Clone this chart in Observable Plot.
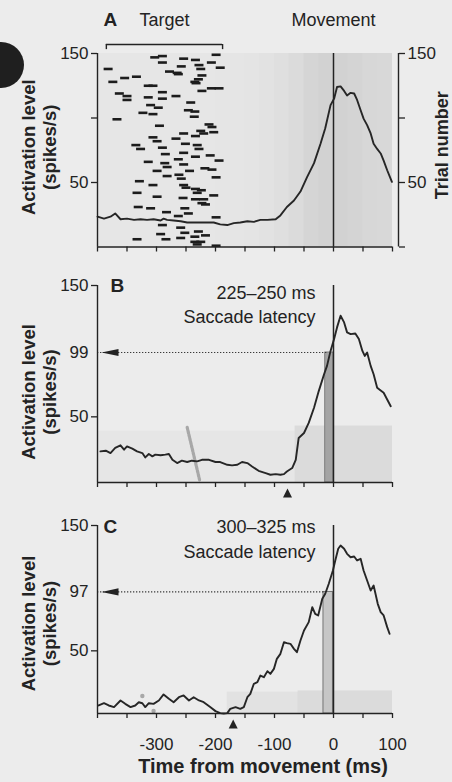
<!DOCTYPE html>
<html><head><meta charset="utf-8">
<script src="https://cdn.jsdelivr.net/npm/d3@7"></script>
<script src="https://cdn.jsdelivr.net/npm/@observablehq/plot@0.6"></script>
<style>
html,body{margin:0;padding:0;background:#ececec;}
#wrap{position:relative;width:452px;height:782px;overflow:hidden;font-family:"Liberation Sans",Arial,Helvetica,sans-serif;color:#222;}
#wrap svg{display:block;}
.disc{position:absolute;left:-22px;top:42px;width:46px;height:46px;border-radius:50%;background:#1f1f1f;z-index:5;}
</style></head>
<body><div id="wrap"><div class="disc"></div></div>
<script>
// ---------- shared axes ----------
const xDomain = [-400, 100];
const yDomain = [0, 150];
const xTicks = [-400, -350, -300, -250, -200, -150, -100, -50, 0, 50, 100];
const xTickLabels = [-300, -200, -100, 0, 100];
const yTicksA = [50, 100, 150];
const yLabelsA = [50, 150];
const trialTicks = [0, 50, 100, 150];
const trialLabels = [50, 150];
const yTicksBC = [50, 150];

// ---------- panel A ----------
const curveA_t = [-400,-389,-378,-370,-361,-350,-338,-327,-316,-305,-293,-288,-282,-271,-259,-248,-237,-225,-214,-203,-192,-180,-169,-158,-146,-135,-124,-112,-98,-90,-79,-67,-56,-45,-33,-22,-14,-5,1,6,12,18,23,29,35,40,46,51,57,63,68,74,80,85,91,99];
const curveA_v = [23.5,22,23.5,26,21.5,22,21,21.5,21,21.5,20.5,22,21,20.5,20,19,19,19,19,19,17.5,17,18.5,19,20,19.5,21,21,21.5,24.5,31,36,43,54,65,80,92,110,115,124,124.5,121,117.5,119.5,119,114,106,99.5,94.5,88,80,76,72.5,67,59.5,50.5];

const targetsA_t = [-303,-290,-254,-234,-207,-199,-192,-290,-258,-228,-225,-382,-278,-265,-263,-223,-229,-235,-233,-334,-354,-374,-314,-306,-290,-223,-207,-194,-363,-350,-350,-314,-290,-267,-242,-310,-297,-323,-306,-246,-235,-236,-367,-295,-211,-206,-254,-234,-220,-306,-299,-267,-251,-290,-231,-228,-335,-327,-203,-225,
  -285,-254,-234,-209,-194,-314,-286,-282,-263,-254,-299,-282,-244,-218,-206,-199,-262,-258,-329,-306,-254,-250,-234,-224,-231,-333,-299,-255,-234,-220,-223,-203,-217,-331,-310,-283,-252,-246,-263,-199,-290,-259,-252,-293,-284,-259,-235,-229,-217,-333,-235,-225,-231,-199];
const targetsA_trial = [147,148,146,145,143,149,139,143,140,141,138,138,136,135,134,133,130,128,127,132,131,128,125,125,120,121,123,123,119,117,114,116,115,117,112,110,108,104,103,106,105,101,99,94,95,93,88,86,88,85,82,84,80,77,79,76,79,76,89,90,
  72,73,70,71,67,66,65,62,68,64,59,55,59,61,60,54,56,53,51,48,48,46,45,44,42,42,39,38,37,37,34,40,33,31,30,27,30,26,24,23,17,15,11,10,6,7,8,12,9,6,4,4,2,1];

const rasterA_start = [-400,-200,-150,-125,-100,-75,-50,-25,0,25,50,75];
const rasterA_end   = [-200,-150,-125,-100,-75,-50,-25,0,25,50,75,100];
const rasterA_density = [0.12,0.15,0.18,0.24,0.32,0.42,0.55,0.62,0.62,0.58,0.52,0.46];
const rasterA_top = [150,150,150,150,150,150,150,150,150,150,150,150];

const targetWindowA = [-385, -188];

// ---------- panel B ----------
const curveB_t = [-395,-386,-378,-370,-361,-355,-350,-341,-333,-324,-319,-313,-307,-302,-293,-285,-279,-273,-265,-257,-248,-240,-231,-223,-211,-200,-192,-180,-172,-163,-155,-146,-138,-127,-115,-107,-98,-90,-84,-79,-70,-64,-59,-50,-42,-33,-25,-16,-11,-5,1,6,12,18,23,29,37,43,49,53,57,63,68,74,80,85,91,97];
const curveB_v = [23.7,24.2,22.4,26.3,28.3,25,27.5,25.8,23.7,22.4,19.1,21.7,19.9,21.2,20.7,21.2,21.7,17.3,14.8,16.6,15.6,16.6,16.1,17.3,17.3,15.6,15.6,13.5,13,13.5,15.6,14.8,12.2,8.9,7.1,5.9,6.4,5.9,6.4,8.4,11,17.3,33.9,37.7,45.4,56.9,69.6,82.4,88.8,100.2,109.2,118.1,127,121.9,114.3,113,113.5,109.2,100.2,96.4,99,88.8,82.4,72.2,70.1,68.3,63.2,58.1];
const rasterB_start = [-400, -65];
const rasterB_end = [-65, 100];
const rasterB_top = [39, 43];
const rasterB_density = [0.12, 0.4];
const targetB_t = [-248, -227];
const targetB_trial = [42, 2];
const thresholdB = 99;
const crossB = -9;
const bandB = [-14, 0];
const onsetB = -78;

// ---------- panel C ----------
const curveC_t = [-398,-389,-381,-372,-361,-353,-344,-336,-330,-324,-319,-313,-305,-296,-288,-279,-271,-262,-254,-245,-237,-228,-220,-209,-200,-192,-186,-180,-175,-166,-158,-152,-146,-141,-135,-129,-124,-118,-112,-107,-101,-96,-90,-84,-79,-73,-67,-62,-56,-50,-42,-36,-31,-26,-19,-14,-8,-1,3,8,12,18,23,29,35,40,46,51,57,63,68,75,80,85,91,95];
const curveC_v = [6.4,8.2,6.4,5.1,10.4,7.7,5.1,6.4,9,8.2,5.1,8.2,7.7,10.4,15.2,11.7,9,13,14.4,10.4,13,10.4,9,5.1,1.9,0.3,0,0.3,3.7,5.1,3.7,5.1,13,15.7,23.7,25,30.3,29,33.8,31.6,35.6,43.6,47.6,56.9,56.1,55.6,51.6,48.9,58.2,66.2,72.9,84.8,79.5,78.2,91.5,95.5,103.5,114.1,122.1,131.4,134,131.4,127.4,124.7,125.3,122.1,123.4,114.1,106.1,98.1,102.1,87.5,80.9,78.2,68.9,63.6];
const rasterC_start = [-180, -60];
const rasterC_end = [-60, 100];
const rasterC_top = [17, 18];
const rasterC_density = [0.24, 0.4];
const targetC_t = [-324, -305];
const targetC_trial = [14, 2];
const thresholdC = 97;
const crossC = -13;
const bandC = [-17, -1];
const onsetC = -170;

// ---------- helpers ----------
const zip = (a, b, ka, kb) => a.map((v, i) => ({[ka]: v, [kb]: b[i]}));
const rasterRows = (s, e, top, den) => s.map((v, i) => ({start: v, end: e[i], top: top[i], density: den[i]}));

const dash = {draw(ctx) { ctx.moveTo(-4.5, -1.3); ctx.lineTo(4.5, -1.3); ctx.lineTo(4.5, 1.3); ctx.lineTo(-4.5, 1.3); ctx.closePath(); }};
const arrowLeft = {draw(ctx) { ctx.moveTo(0, 0); ctx.lineTo(17, -3.6); ctx.lineTo(17, 3.6); ctx.closePath(); }};
const triUp = {draw(ctx) { ctx.moveTo(0, -5); ctx.lineTo(4.5, 4); ctx.lineTo(-4.5, 4); ctx.closePath(); }};

const INK = "#232323";
const FONT = "Liberation Sans, Arial, Helvetica, sans-serif";
const baseStyle = {background: "transparent", fontFamily: FONT, fontSize: "17px", color: INK, overflow: "visible"};
const RASTER_INK = 0.32;

function frameMarks() {
  return [
    Plot.ruleX([0], {y1: yDomain[0], y2: yDomain[1], stroke: INK, strokeWidth: 1.5}),
    Plot.ruleX([xDomain[0]], {y1: yDomain[0], y2: yDomain[1], stroke: INK, strokeWidth: 1.4}),
    Plot.ruleY([yDomain[0]], {stroke: INK, strokeWidth: 1.4}),
    Plot.axisX({ticks: xTicks, tickSize: 5, tickFormat: () => "", label: null, stroke: INK, strokeWidth: 1.3})
  ];
}
function label(str, opts) {
  return Plot.text([str], {text: d => d, textAnchor: "middle", lineAnchor: "middle", fill: INK, fontSize: 18, ...opts});
}
function yTitle(dy) {
  return [
    label("Activation level", {frameAnchor: "left", dx: -68, dy, rotate: -90, fontWeight: "bold", fontSize: 18.5}),
    label("(spikes/s)", {frameAnchor: "left", dx: -47, dy, rotate: -90, fontWeight: "bold", fontSize: 18.5})
  ];
}
function curveMark(t, v) {
  return Plot.line(zip(t, v, "t", "v"), {x: "t", y: "v", stroke: "#262626", strokeWidth: 1.9, strokeLinejoin: "round"});
}
function rasterMark(s, e, top, den) {
  return Plot.rect(rasterRows(s, e, top, den),
    {x1: "start", x2: "end", y1: 0, y2: "top", fill: "#6e6e6e", fillOpacity: d => d.density * RASTER_INK});
}

const wrap = document.getElementById("wrap");

// ---------- Panel A ----------
const plotA = Plot.plot({
  width: 452, height: 262, marginLeft: 97, marginRight: 60, marginTop: 53, marginBottom: 15.5,
  x: {domain: xDomain}, y: {domain: yDomain},
  style: baseStyle,
  marks: [
    rasterMark(rasterA_start, rasterA_end, rasterA_top, rasterA_density),
    Plot.dot(zip(targetsA_t, targetsA_trial, "t", "trial"), {x: "t", y: "trial", symbol: dash, r: 3, fill: "#1c1c1c", stroke: "none"}),
    curveMark(curveA_t, curveA_v),
    ...frameMarks(),
    Plot.ruleX([xDomain[1]], {y1: yDomain[0], y2: yDomain[1], dx: 6, stroke: INK, strokeWidth: 1.4}),
    Plot.axisY({ticks: yTicksA, tickSize: 6, tickPadding: 3, tickFormat: d => yLabelsA.includes(d) ? d : "", label: null, fontSize: 17, stroke: INK, strokeWidth: 1.3}),
    Plot.axisY({anchor: "right", ticks: trialTicks, dx: 6, tickSize: 6, tickPadding: 3, tickFormat: d => trialLabels.includes(d) ? d : "", label: null, fontSize: 17, stroke: INK, strokeWidth: 1.3}),
    Plot.ruleY([157], {x1: targetWindowA[0], x2: targetWindowA[1], stroke: INK, strokeWidth: 1.4}),
    Plot.ruleX(targetWindowA, {y1: 153, y2: 157, stroke: INK, strokeWidth: 1.4}),
    label("A", {frameAnchor: "top-left", dx: 6, dy: -34, textAnchor: "start", fontWeight: "bold", fontSize: 19}),
    label("Target", {x: d3.mean(targetWindowA), frameAnchor: "top", dy: -33}),
    label("Movement", {x: 0, frameAnchor: "top", dy: -33}),
    label("Trial number", {frameAnchor: "right", dx: 50, dy: -5, rotate: -90, fontWeight: "bold", fontSize: 18}),
    ...yTitle(-3)
  ]
});
wrap.appendChild(plotA);

// ---------- Panel B ----------
const plotB = Plot.plot({
  width: 452, height: 238, marginLeft: 97, marginRight: 60, marginTop: 23, marginBottom: 18,
  x: {domain: xDomain}, y: {domain: yDomain},
  style: baseStyle,
  marks: [
    rasterMark(rasterB_start, rasterB_end, rasterB_top, rasterB_density),
    Plot.line(zip(targetB_t, targetB_trial, "t", "trial"), {x: "t", y: "trial", stroke: "#a8a8a8", strokeWidth: 3.2, strokeDasharray: "2.5,1.2"}),
    Plot.rect([bandB], {x1: d => d[0], x2: d => d[1], y1: 0, y2: thresholdB, fill: "#a4a4a4", stroke: "#6c6c6c", strokeWidth: 0.8}),
    Plot.ruleY([thresholdB], {x1: xDomain[0], x2: crossB, stroke: "#3a3a3a", strokeWidth: 1.2, strokeDasharray: "1.3,1.7"}),
    Plot.dot([thresholdB], {x: xDomain[0], y: d => d, dx: 4, symbol: arrowLeft, r: 4, fill: INK, stroke: "none"}),
    curveMark(curveB_t, curveB_v),
    ...frameMarks(),
    Plot.axisY({ticks: yTicksBC, tickSize: 6, tickPadding: 3, label: null, fontSize: 17, stroke: INK, strokeWidth: 1.3}),
    Plot.axisY({ticks: [thresholdB], tickSize: 0, tickPadding: 9, label: null, fontSize: 17}),
    Plot.dot([onsetB], {x: d => d, y: 0, dy: 11, symbol: triUp, r: 4, fill: INK, stroke: "none"}),
    label("B", {frameAnchor: "top-left", dx: 13, dy: 0, textAnchor: "start", fontWeight: "bold", fontSize: 19}),
    label("225–250 ms", {x: 0, frameAnchor: "top", dx: -18, dy: 8, textAnchor: "end"}),
    label("Saccade latency", {x: 0, frameAnchor: "top", dx: -18, dy: 32, textAnchor: "end"}),
    ...yTitle(8)
  ]
});
wrap.appendChild(plotB);

// ---------- Panel C ----------
const plotC = Plot.plot({
  width: 452, height: 282, marginLeft: 97, marginRight: 60, marginTop: 25, marginBottom: 69,
  x: {domain: xDomain}, y: {domain: yDomain},
  style: baseStyle,
  marks: [
    rasterMark(rasterC_start, rasterC_end, rasterC_top, rasterC_density),
    Plot.dot(zip(targetC_t, targetC_trial, "t", "trial"), {x: "t", y: "trial", r: 2.2, fill: "#a8a8a8", stroke: "none"}),
    Plot.rect([bandC], {x1: d => d[0], x2: d => d[1], y1: 0, y2: thresholdC, fill: "#c6c6c6", stroke: "#6a6a6a", strokeWidth: 0.9}),
    Plot.ruleY([thresholdC], {x1: xDomain[0], x2: crossC, stroke: "#3a3a3a", strokeWidth: 1.2, strokeDasharray: "1.3,1.7"}),
    Plot.dot([thresholdC], {x: xDomain[0], y: d => d, dx: 4, symbol: arrowLeft, r: 4, fill: INK, stroke: "none"}),
    curveMark(curveC_t, curveC_v),
    ...frameMarks(),
    Plot.axisX({ticks: xTickLabels, tickSize: 0, tickPadding: 24, tickFormat: d => String(d), label: null, fontSize: 17}),
    Plot.axisY({ticks: yTicksBC, tickSize: 6, tickPadding: 3, label: null, fontSize: 17, stroke: INK, strokeWidth: 1.3}),
    Plot.axisY({ticks: [thresholdC], tickSize: 0, tickPadding: 9, label: null, fontSize: 17}),
    Plot.dot([onsetC], {x: d => d, y: 0, dy: 11, symbol: triUp, r: 4, fill: INK, stroke: "none"}),
    label("C", {frameAnchor: "top-left", dx: 6, dy: 1, textAnchor: "start", fontWeight: "bold", fontSize: 19}),
    label("300–325 ms", {x: 0, frameAnchor: "top", dx: -18, dy: 2, textAnchor: "end"}),
    label("Saccade latency", {x: 0, frameAnchor: "top", dx: -18, dy: 27, textAnchor: "end"}),
    label("Time from movement (ms)", {frameAnchor: "bottom", dx: 18, dy: 53, fontWeight: "bold", fontSize: 20}),
    ...yTitle(4)
  ]
});
wrap.appendChild(plotC);
</script>
</body></html>
